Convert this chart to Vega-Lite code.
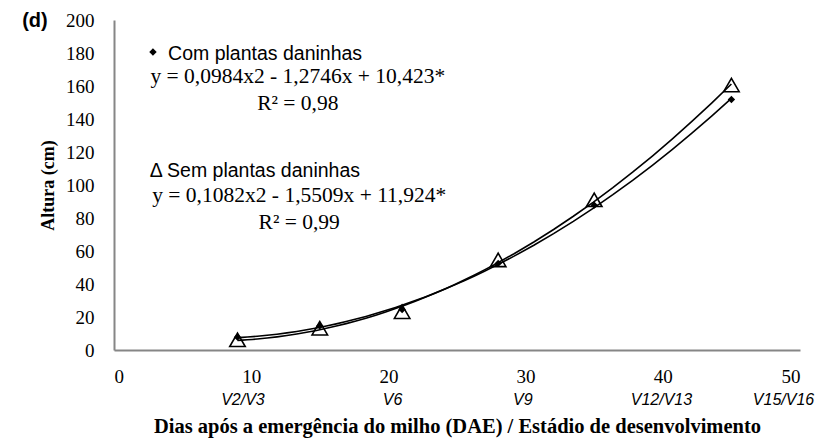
{
  "$schema": "https://vega.github.io/schema/vega-lite/v6.json",
  "width": 686,
  "height": 330,
  "autosize": {"type": "none"},
  "padding": {"left": 114, "top": 20, "right": 28, "bottom": 92},
  "background": "white",
  "config": {
    "view": {"stroke": null},
    "font": "Liberation Serif",
    "axis": {
      "grid": false,
      "ticks": false,
      "domainColor": "#868686",
      "domainWidth": 2,
      "labelColor": "black",
      "titleColor": "black"
    }
  },
  "datasets": {
    "altura": [
      {"dae": 9, "altura": 7.8, "serie": "Com plantas daninhas"},
      {"dae": 15, "altura": 14.6, "serie": "Com plantas daninhas"},
      {"dae": 21, "altura": 24.5, "serie": "Com plantas daninhas"},
      {"dae": 28, "altura": 52.5, "serie": "Com plantas daninhas"},
      {"dae": 35, "altura": 87.8, "serie": "Com plantas daninhas"},
      {"dae": 45, "altura": 151.8, "serie": "Com plantas daninhas"},
      {"dae": 9, "altura": 6.2, "serie": "Sem plantas daninhas"},
      {"dae": 15, "altura": 13.2, "serie": "Sem plantas daninhas"},
      {"dae": 21, "altura": 23.2, "serie": "Sem plantas daninhas"},
      {"dae": 28, "altura": 54.6, "serie": "Sem plantas daninhas"},
      {"dae": 35, "altura": 91.0, "serie": "Sem plantas daninhas"},
      {"dae": 45, "altura": 160.6, "serie": "Sem plantas daninhas"}
    ],
    "estadios": [
      {"dae": 9.4, "altura": -30.3, "estadio": "V2/V3"},
      {"dae": 20.3, "altura": -30.3, "estadio": "V6"},
      {"dae": 29.8, "altura": -30.3, "estadio": "V9"},
      {"dae": 39.9, "altura": -30.3, "estadio": "V12/V13"},
      {"dae": 48.8, "altura": -30.3, "estadio": "V15/V16"}
    ],
    "equacoes": [
      {"dae": 13.4, "altura": 161.8, "texto": "y = 0,0984x2 - 1,2746x + 10,423*"},
      {"dae": 13.4, "altura": 145.5, "texto": "R² = 0,98"},
      {"dae": 13.5, "altura": 89.7, "texto": "y = 0,1082x2 - 1,5509x + 11,924*"},
      {"dae": 13.5, "altura": 73.3, "texto": "R² = 0,99"}
    ]
  },
  "encoding": {
    "x": {
      "field": "dae",
      "type": "quantitative",
      "scale": {"domain": [0, 50]},
      "axis": {
        "values": [0, 10, 20, 30, 40, 50],
        "labelFont": "Liberation Serif",
        "labelFontSize": 19,
        "labelPadding": 17,
        "title": "Dias após a emergência do milho  (DAE) / Estádio de desenvolvimento",
        "titleFont": "Liberation Serif",
        "titleFontSize": 20.5,
        "titleFontWeight": "bold",
        "titlePadding": 30
      }
    },
    "y": {
      "field": "altura",
      "type": "quantitative",
      "scale": {"domain": [0, 200]},
      "axis": {
        "values": [0, 20, 40, 60, 80, 100, 120, 140, 160, 180, 200],
        "labelFont": "Liberation Serif",
        "labelFontSize": 19,
        "labelPadding": 20,
        "title": "Altura (cm)",
        "titleFont": "Liberation Serif",
        "titleFontSize": 18,
        "titleFontWeight": "bold",
        "titlePadding": 8
      }
    }
  },
  "layer": [
    {
      "data": {"name": "altura"},
      "transform": [{"filter": "datum.serie === 'Sem plantas daninhas'"}],
      "mark": {"type": "point", "shape": "triangle-up", "filled": true, "fill": "white", "stroke": "black", "strokeWidth": 1.6, "size": 240, "opacity": 1}
    },
    {
      "data": {"name": "altura"},
      "transform": [
        {"regression": "altura", "on": "dae", "method": "poly", "order": 2, "groupby": ["serie"]}
      ],
      "mark": {"type": "line", "color": "black", "strokeWidth": 1.6},
      "encoding": {"detail": {"field": "serie"}}
    },
    {
      "data": {"name": "altura"},
      "transform": [{"filter": "datum.serie === 'Com plantas daninhas'"}],
      "mark": {"type": "point", "shape": "diamond", "filled": true, "color": "black", "size": 55, "opacity": 1}
    },
    {
      "data": {"values": [{"dae": 2.84, "altura": 180.6}]},
      "mark": {"type": "point", "shape": "diamond", "filled": true, "color": "black", "size": 55, "opacity": 1}
    },
    {
      "data": {"values": [
        {"dae": 3.94, "altura": 175.8, "texto": "Com plantas daninhas"},
        {"dae": 2.6, "altura": 104.8, "texto": "Δ Sem plantas daninhas"}
      ]},
      "mark": {"type": "text", "font": "Liberation Sans", "fontSize": 19.5, "align": "left", "baseline": "alphabetic", "color": "black"},
      "encoding": {"text": {"field": "texto"}}
    },
    {
      "data": {"name": "equacoes"},
      "mark": {"type": "text", "font": "Liberation Serif", "fontSize": 21.5, "align": "center", "baseline": "alphabetic", "color": "black"},
      "encoding": {"text": {"field": "texto"}}
    },
    {
      "data": {"name": "estadios"},
      "mark": {"type": "text", "font": "Liberation Sans", "fontSize": 16, "fontStyle": "italic", "align": "center", "baseline": "middle", "color": "black"},
      "encoding": {"text": {"field": "estadio"}}
    },
    {
      "data": {"values": [{"dae": -5.76, "altura": 199.4, "texto": "(d)"}]},
      "mark": {"type": "text", "font": "Liberation Sans", "fontSize": 20, "fontWeight": "bold", "align": "center", "baseline": "middle", "color": "black"},
      "encoding": {"text": {"field": "texto"}}
    }
  ]
}
